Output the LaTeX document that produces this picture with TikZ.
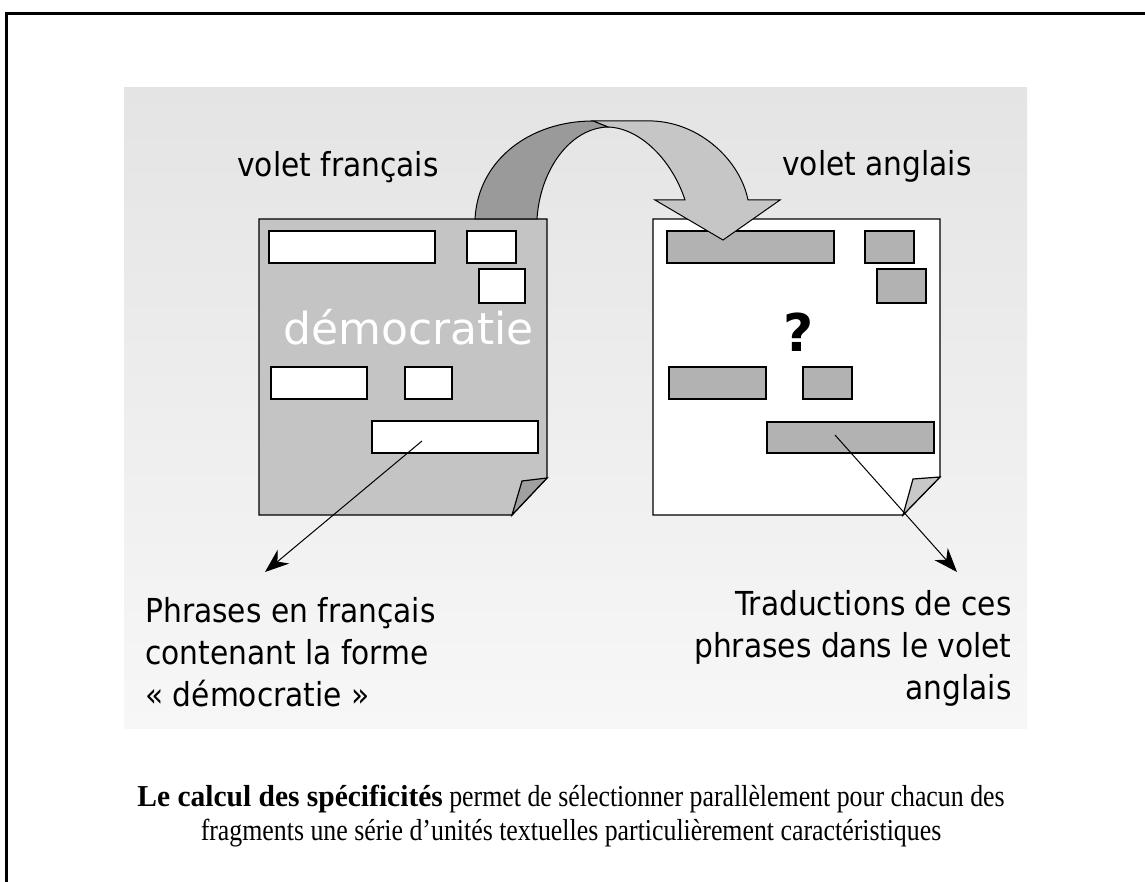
\documentclass[tikz,border=0pt]{standalone}
\usepackage{fontspec}
\setmainfont{Liberation Serif}[FakeStretch=0.85, BoldFeatures={FakeStretch=0.97}]
\newfontfamily\slidefont{DejaVu Sans Condensed}
\newfontfamily\wordfont{DejaVu Sans}
\usepackage{tikz}
\usetikzlibrary{arrows.meta}
\definecolor{panelgrey}{HTML}{E4E4E4}
\definecolor{panellight}{HTML}{F7F7F7}
\definecolor{frpage}{HTML}{C4C4C4}
\definecolor{frfold}{HTML}{A0A0A0}
\definecolor{enslot}{HTML}{B2B2B2}
\definecolor{enfold}{HTML}{C8C8C8}
\definecolor{bandback}{HTML}{9A9A9A}
\definecolor{bandfront}{HTML}{C6C6C6}
\tikzset{>={Stealth[length=12pt,width=9pt]}}
\tikzset{
  page/.style={draw=black, line width=0.6pt},
  slot/.style={draw=black, line width=0.7pt},
  band/.style={draw=black, line width=0.5pt},
  sidetext/.style={font=\slidefont\fontsize{16.5}{21}\selectfont, text=black, inner sep=0pt},
}

\begin{document}
\begin{tikzpicture}[x=0.5pt, y=-0.5pt, >={Stealth[length=12pt,width=9pt]}]
            \useasboundingbox (0,0) rectangle (1145,882);
            \draw[line width=1.6pt] (6.5,882) -- (6.5,13.3) -- (1145,13.3);
            \shade[top color=panelgrey, bottom color=panellight] (124,88) rectangle (1027,728);
            \node[sidetext, anchor=base west] (frhead) at (237,177) {volet français};
            \node[sidetext, anchor=base west] (enhead) at (782,176) {volet anglais};
            \draw[page, fill=frpage] (259,219) -- (547,219) -- (547,478) -- (512,515) -- (259,515) -- cycle;
            \draw[page, fill=frfold] (547,478) -- (522,481) -- (512,515) -- cycle;
            \draw[page, fill=white] (653,219) -- (940,219) -- (940,477) -- (903,515) -- (653,515) -- cycle;
            \draw[page, fill=enfold] (940,477) -- (913,479) -- (903,515) -- cycle;
            \foreach \xa/\ya/\xb/\yb in {269/231/435/263, 467/231/516/263, 479/269/525/303, 271/367/367/399, 405/367/452/399, 372/421/538/453}
                \draw[slot, fill=white] (\xa,\ya) rectangle (\xb,\yb);
            \foreach \xa/\ya/\xb/\yb in {667/231/834/263, 865/231/914/263, 877/269/926/303, 669/367/766/399, 803/367/852/399, 767/422/934/453}
                \draw[slot, fill=enslot] (\xa,\ya) rectangle (\xb,\yb);
            \node[anchor=base west, inner sep=0pt, text=white, font=\wordfont\fontsize{22}{22}\selectfont] (frword) at (283,344) {démocratie};
            \node[anchor=base west, inner sep=0pt, font=\wordfont\bfseries\fontsize{26}{26}\selectfont] (enword) at (783,351) {?};
            \filldraw[band, fill=bandfront] (593,121) -- (653,121) .. controls (700,123) and (740,160) .. (748,200) -- (780,200) -- (723,240) -- (655,200) -- (685,200) .. controls (672,160) and (640,128) .. (608,127) -- cycle;
            \filldraw[band, fill=bandback] (475,219) .. controls (478,160) and (530,121) .. (593,121) -- (608,127) .. controls (570,128) and (540,170) .. (537,219) -- cycle;
            \node[sidetext, anchor=north west, align=left] (frnote) at (145,597) {Phrases en français\\contenant la forme\\« démocratie »};
            \node[sidetext, anchor=north east, align=right] (ennote) at (1012,590) {Traductions de ces\\phrases dans le volet\\anglais};
            \coordinate (frsrc) at (422,441);
            \coordinate (frtip) at (265,572);
            \coordinate (ensrc) at (835,435);
            \coordinate (entip) at (957,572);
            \draw[->, line width=0.5pt] (frsrc) -- (frtip);
            \draw[->, line width=0.5pt] (ensrc) -- (entip);
            \node[anchor=north, align=center, inner sep=0pt, font=\fontsize{15.2}{17}\selectfont] (note) at (571,785) {\textbf{Le calcul des spécificités} permet de sélectionner parallèlement pour chacun des\\fragments une série d’unités textuelles particulièrement caractéristiques};
\end{tikzpicture}
\end{document}
